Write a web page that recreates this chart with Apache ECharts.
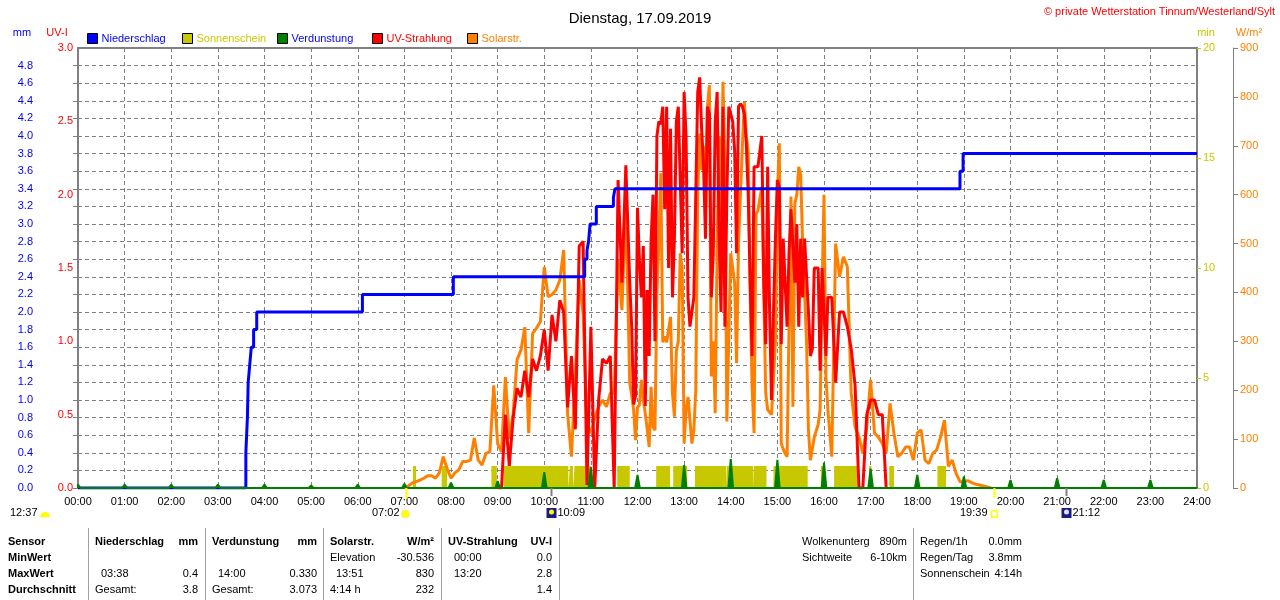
<!DOCTYPE html>
<html>
<head>
<meta charset="utf-8">
<title>Dienstag, 17.09.2019</title>
<script src="https://cdn.jsdelivr.net/npm/echarts/dist/echarts.min.js"></script>
<style>
html, body { margin: 0; padding: 0; background: #fff; }
#chart { width: 1280px; height: 600px; }
</style>
</head>
<body>
<div id="chart"></div>
<script>
// all times are minutes since midnight
var FONT = '"Liberation Sans", Arial, sans-serif';

// Niederschlag, cumulative mm (step line)
var rainTimes  = [0, 216, 218, 219, 221, 223, 226, 230, 366, 483, 652, 655, 657, 659, 667, 689, 691, 1135, 1139, 1440];
var rainTotals = [0, 0.4, 0.8, 1.2, 1.4, 1.6, 1.8, 2.0, 2.2, 2.4, 2.6, 2.7, 2.8, 3.0, 3.2, 3.3, 3.4, 3.6, 3.8, 3.8];

// Verdunstung per hour, mm
var evapHours  = [0, 1, 2, 3, 4, 5, 6, 7, 8, 9, 10, 11, 12, 13, 14, 15, 16, 17, 18, 19, 20, 21, 22, 23];
var evapValues = [0.04, 0.04, 0.04, 0.04, 0.04, 0.03, 0.04, 0.05, 0.06, 0.08, 0.18, 0.24,
                  0.15, 0.26, 0.33, 0.32, 0.29, 0.22, 0.15, 0.13, 0.09, 0.11, 0.09, 0.09];

// Sonnenschein periods (bar height 1 min)
var sunStart = [431, 468, 532, 548, 633, 639, 694, 744, 766, 794, 835, 870, 895, 956, 973, 1018, 1044, 1106];
var sunEnd   = [435, 475, 539, 631, 637, 659, 710, 762, 784, 834, 869, 886, 939, 959, 1003, 1021, 1050, 1117];

// Solarstrahlung W/m²: 5-min samples 07:00-11:45, 2.5-min samples 11:50-16:05, 5-min samples 16:10-19:35
var solarEarlyFrom = 420, solarMidFrom = 710, solarLateFrom = 970;
var solarEarly = [
  0, 4, 10, 13, 16, 20, 25, 25, 20, 31, 64, 40,
  20, 31, 37, 54, 54, 57, 102, 57, 47, 71, 74, 210,
  91, 74, 227, 100, 153, 262, 282, 329, 112, 316, 327, 340,
  452, 391, 396, 405, 425, 487, 153, 64, 235, 425, 357, 132,
  112, 145, 166, 180, 166, 194, 194, 466, 364, 582
];
var solarMid = [
  214, 190, 160, 98, 165, 170, 221, 180, 153, 120, 84, 207,
  125, 118, 400, 500, 644, 298, 310, 298, 298, 350, 194, 146,
  280, 300, 480, 450, 91, 160, 186, 139, 91, 118, 200, 600,
  725, 650, 700, 600, 780, 824, 228, 300, 153, 500, 720, 550,
  831, 650, 136, 136,
  480, 480, 420, 255, 500, 600, 700, 790, 720, 690, 400, 206,
  112, 560, 568, 570, 616, 400, 194, 160, 160, 150, 146, 300,
  600, 705, 91, 80, 70, 64, 64, 596, 166, 582, 600, 657,
  640, 500, 400, 300, 118, 57, 60, 104, 104, 130, 160, 400,
  600, 228, 160
];
var solarLate = [
  64, 500, 432, 473, 453, 194, 125, 104, 71, 125,
  221, 112, 104, 91, 71, 173, 112, 64, 71, 84, 84, 57,
  112, 119, 57, 50, 71, 78, 104, 139, 44, 57, 30, 13,
  13, 15, 11, 8, 6, 4, 2, 0
];

// UV-Index: same sampling, 09:00-11:45, 11:50-16:05, 16:10-17:20
var uvEarlyFrom = 540, uvMidFrom = 710, uvLateFrom = 970;
var uvEarly = [
  0, 0, 0.50, 0.15, 0.48, 0.68, 0.62, 0.80, 0.62, 0.88, 0.80, 0.90,
  1.08, 0.80, 1.18, 1.00, 1.28, 1.20, 0.55, 0.90, 0.40, 1.65, 1.68, 0.02,
  1.10, 0.00, 0.60, 0.88, 0.85, 0.90, 0.00, 2.10, 1.40, 2.20
];
var uvMid = [
  1.40, 1.10, 0.57, 0.63, 1.91, 1.55, 1.30, 1.65, 0.56, 1.35, 0.90, 1.69,
  2.00, 1.00, 2.40, 2.50, 2.48, 2.60, 1.90, 2.60, 1.50, 2.45, 1.30, 1.70,
  2.50, 2.60, 2.60, 1.60, 2.70, 2.40, 1.30, 1.10, 1.10, 1.30, 2.00, 2.70,
  2.80, 2.45, 2.20, 1.70, 2.60, 2.55, 1.30, 1.60, 2.50, 2.70, 1.70, 1.20,
  2.60, 1.10, 2.00, 2.60,
  2.60, 2.50, 2.30, 1.60, 2.60, 2.62, 2.60, 2.55, 2.35, 2.00, 1.40, 0.90,
  2.19, 2.19, 2.19, 2.19, 2.40, 1.40, 0.98, 2.19, 1.20, 0.60, 1.20, 1.70,
  2.10, 2.05, 0.98, 1.70, 1.70, 1.10, 1.60, 1.90, 1.90, 1.40, 1.80, 1.10,
  1.70, 1.30, 1.70, 1.70, 1.20, 0.90, 0.95, 1.50, 1.50, 1.50, 0.80, 1.50,
  1.50, 0.90, 1.30
];
var uvLate = [1.30, 0.72, 1.20, 1.20, 1.10, 0.95, 0.70, 0.00, 0.00, 0.50, 0.60, 0.60, 0.50, 0.50, 0.00];

// sun / moon events under the time axis
var eventLabels  = ['07:02', '10:09', '19:39', '21:12'];
var eventMinutes = [422, 609, 1179, 1272];
var eventKinds   = ['sunrise', 'moonset', 'sunset', 'moonrise'];

var legendNames  = ['Niederschlag', 'Sonnenschein', 'Verdunstung', 'UV-Strahlung', 'Solarstr.'];
var legendColors = ['#0000ff', '#c8c800', '#008000', '#ff0000', '#ff8000'];
var legendText   = ['#0000ff', '#c8c800', '#0000ff', '#ff0000', '#ff8000'];
var legendLeft   = [87, 182, 277, 372, 467];

// table under the chart
var tableRows = ['Sensor', 'MinWert', 'MaxWert', 'Durchschnitt'];
var tableCols = [
  { head: 'Niederschlag', unit: 'mm',   x: 95,  r: 198, cells: [['', ''], ['03:38', '0.4'], ['Gesamt:', '3.8']] },
  { head: 'Verdunstung',  unit: 'mm',   x: 212, r: 317, cells: [['', ''], ['14:00', '0.330'], ['Gesamt:', '3.073']] },
  { head: 'Solarstr.',    unit: 'W/m²', x: 330, r: 434, cells: [['Elevation', '-30.536'], ['13:51', '830'], ['4:14 h', '232']] },
  { head: 'UV-Strahlung', unit: 'UV-I', x: 448, r: 552, cells: [['00:00', '0.0'], ['13:20', '2.8'], ['', '1.4']] }
];
var infoLeft  = [['Wolkenunterg', '890m'], ['Sichtweite', '6-10km']];
var infoRight = [['Regen/1h', '0.0mm'], ['Regen/Tag', '3.8mm'], ['Sonnenschein', '4:14h']];

function pad(n) { return (n < 10 ? '0' : '') + n; }
function samples(from, step, values) {
  return values.map(function (v, i) { return [from + i * step, v]; });
}

var rainData = rainTimes.map(function (t, i) { return [t, rainTotals[i]]; });
var solarData = samples(solarEarlyFrom, 5, solarEarly)
  .concat(samples(solarMidFrom, 2.5, solarMid))
  .concat(samples(solarLateFrom, 5, solarLate));
var uvData = samples(uvEarlyFrom, 5, uvEarly)
  .concat(samples(uvMidFrom, 2.5, uvMid))
  .concat(samples(uvLateFrom, 5, uvLate));
var evapData = [];
evapHours.forEach(function (h, i) {
  var m = h * 60;
  evapData.push([m - 3, 0], [m, evapValues[i]], [m + 3, 0]);
});
evapData.push([1440, 0]);
var sunData = [];
sunStart.forEach(function (s, i) {
  sunData.push([s, 0], [s, 1], [sunEnd[i], 1], [sunEnd[i], 0]);
});

var chart = echarts.init(document.getElementById('chart'));

var dashed = { color: '#808080', width: 1, type: [4, 3] };

var option = {
  animation: false,
  backgroundColor: '#fff',
  textStyle: { fontFamily: FONT },
  title: {
    text: 'Dienstag, 17.09.2019',
    left: 'center', top: 6,
    textStyle: { fontSize: 15, fontWeight: 'normal', color: '#000', fontFamily: FONT }
  },
  legend: legendNames.map(function (n, i) {
    return {
      left: legendLeft[i], top: 33, padding: 0,
      itemWidth: 10, itemHeight: 10, icon: 'rect', selectedMode: false,
      textStyle: { fontSize: 11, fontFamily: FONT, color: legendText[i], padding: [0, 0, 0, -1] },
      itemStyle: { borderColor: '#000', borderWidth: 1 },
      data: [{ name: n, itemStyle: { color: legendColors[i], borderColor: '#000', borderWidth: 1 } }]
    };
  }),
  grid: {
    left: 78, right: 83, top: 48, bottom: 112,
    containLabel: false, outerBoundsMode: 'none',
    show: true, borderColor: '#808080', borderWidth: 2
  },
  xAxis: {
    type: 'value', min: 0, max: 1440, interval: 60,
    axisLine: { show: true, lineStyle: { color: '#008000', width: 2 } },
    axisTick: { show: false },
    axisLabel: {
      color: '#000', fontSize: 11, fontFamily: FONT, margin: 8,
      formatter: function (v) { return pad(v / 60) + ':00'; }
    },
    splitLine: { show: true, lineStyle: dashed }
  },
  yAxis: [
    {
      type: 'value', position: 'left', offset: 37, min: 0, max: 5, interval: 0.2,
      axisLine: { show: true, lineStyle: { color: '#808080', width: 1 } },
      axisTick: { show: true, length: 5, lineStyle: { color: '#808080' } },
      axisLabel: {
        color: '#0000ff', fontSize: 11, fontFamily: FONT, margin: 8, showMaxLabel: false,
        formatter: function (v) { return v.toFixed(1); }
      },
      splitLine: { show: true, lineStyle: dashed }
    },
    {
      type: 'value', position: 'left', offset: 0, min: 0, max: 3, interval: 0.5,
      axisLine: { show: false }, axisTick: { show: false },
      axisLabel: {
        color: '#ff0000', fontSize: 11, fontFamily: FONT, margin: 5,
        formatter: function (v) { return v.toFixed(1); }
      },
      splitLine: { show: false }
    },
    {
      type: 'value', position: 'right', offset: 0, min: 0, max: 20, interval: 5,
      axisLine: { show: false },
      axisTick: { show: true, length: 4, lineStyle: { color: '#c8c800' } },
      axisLabel: { color: '#c8c800', fontSize: 11, fontFamily: FONT, margin: 6 },
      splitLine: { show: false }
    },
    {
      type: 'value', position: 'right', offset: 36, min: 0, max: 900, interval: 100,
      axisLine: { show: true, lineStyle: { color: '#808080', width: 1 } },
      axisTick: { show: true, length: 5, lineStyle: { color: '#808080' } },
      axisLabel: { color: '#ff8000', fontSize: 11, fontFamily: FONT, margin: 7 },
      splitLine: { show: false }
    }
  ],
  series: [
    {
      name: 'Sonnenschein', type: 'line', yAxisIndex: 2, z: 1,
      color: '#c8c800', symbol: 'none',
      lineStyle: { width: 0 }, areaStyle: { color: '#c8c800', opacity: 1 },
      data: sunData
    },
    {
      name: 'Solarstr.', type: 'line', yAxisIndex: 3, z: 2,
      color: '#ff8000', symbol: 'none',
      lineStyle: { width: 3, color: '#ff8000' },
      data: solarData
    },
    {
      name: 'UV-Strahlung', type: 'line', yAxisIndex: 1, z: 3,
      color: '#ff0000', symbol: 'none',
      lineStyle: { width: 3, color: '#ff0000' },
      data: uvData
    },
    {
      name: 'Niederschlag', type: 'line', yAxisIndex: 0, z: 4, step: 'end',
      color: '#0000ff', symbol: 'none',
      lineStyle: { width: 3, color: '#0000ff' },
      data: rainData
    },
    {
      name: 'Verdunstung', type: 'line', yAxisIndex: 0, z: 5,
      color: '#008000', symbol: 'none',
      lineStyle: { width: 2, color: '#008000' },
      areaStyle: { color: '#008000', opacity: 1 },
      data: evapData
    }
  ]
};

chart.setOption(option);

// ---- texts and marks around the plot ----
function txt(s, x, y, color, opts) {
  opts = opts || {};
  return {
    type: 'text', x: x, y: y, silent: true, z: 100,
    style: {
      text: s, fill: color || '#000',
      font: (opts.bold ? 'bold ' : '') + (opts.size || 11) + 'px ' + FONT,
      textAlign: opts.align || 'left', align: opts.align || 'left',
      textVerticalAlign: 'middle', verticalAlign: 'middle'
    }
  };
}
function vline(x, y1, y2, color, w) {
  return { type: 'line', silent: true, z: 100, shape: { x1: x, y1: y1, x2: x, y2: y2 },
           style: { stroke: color, lineWidth: w || 1 } };
}

var g = [];
var baseY = chart.convertToPixel({ yAxisIndex: 0 }, 0);

g.push(txt('© private Wetterstation Tinnum/Westerland/Sylt', 1275, 12, '#ff0000', { align: 'right' }));
g.push(txt('mm', 22, 33, '#0000ff', { align: 'center' }));
g.push(txt('UV-I', 57, 33, '#ff0000', { align: 'center' }));
g.push(txt('min', 1206, 33, '#c8c800', { align: 'center' }));
g.push(txt('W/m²', 1249, 33, '#ff8000', { align: 'center' }));

// marker at the far left
g.push(txt('12:37', 10, 513, '#000'));
g.push({ type: 'sector', silent: true, z: 100,
         shape: { cx: 45, cy: 517, r0: 0, r: 5, startAngle: Math.PI, endAngle: 2 * Math.PI },
         style: { fill: '#ffff00' } });

eventMinutes.forEach(function (m, i) {
  var x = Math.round(chart.convertToPixel({ xAxisIndex: 0 }, m)) + 0.5;
  var kind = eventKinds[i];
  if (kind === 'sunrise') {
    g.push(vline(x, baseY, baseY + 11, '#ffff00', 2));
    g.push({ type: 'circle', silent: true, z: 100, shape: { cx: x - 1, cy: 514, r: 4 },
             style: { fill: '#ffff00', stroke: '#ffe680', lineWidth: 1 } });
    g.push(txt(eventLabels[i], x - 7, 513, '#000', { align: 'right' }));
  } else if (kind === 'sunset') {
    g.push(vline(x, baseY, baseY + 10, '#ffff00', 2));
    g.push({ type: 'rect', silent: true, z: 100, shape: { x: x - 3, y: 511, width: 6, height: 6 },
             style: { fill: '#fff', stroke: '#ffff00', lineWidth: 1.5 } });
    g.push(txt(eventLabels[i], x - 7, 513, '#000', { align: 'right' }));
  } else {
    g.push(vline(x, baseY, baseY + 8, '#808080', 2));
    g.push({ type: 'rect', silent: true, z: 100, shape: { x: x - 5, y: 508, width: 10, height: 10 },
             style: { fill: '#1c1c80' } });
    g.push({ type: 'circle', silent: true, z: 101, shape: { cx: x, cy: 512, r: 2.5 },
             style: { fill: kind === 'moonset' ? '#ffff00' : '#e0e0ff' } });
    g.push(txt(eventLabels[i], x + 6, 513, '#000'));
  }
});

// table
var rowY = [541.5, 557.5, 573.5, 589.5];
tableRows.forEach(function (r, i) { g.push(txt(r, 8, rowY[i], '#000', { bold: true })); });
[88.5, 205.5, 323.5, 441.5, 559.5, 913.5].forEach(function (x) {
  g.push(vline(x, 528, 600, '#a0a0a0', 1));
});
tableCols.forEach(function (c) {
  g.push(txt(c.head, c.x, rowY[0], '#000', { bold: true }));
  g.push(txt(c.unit, c.r, rowY[0], '#000', { bold: true, align: 'right' }));
  c.cells.forEach(function (cell, j) {
    var left = cell[0];
    var indent = /^\d\d:\d\d$/.test(left) ? 6 : 0;
    if (left) g.push(txt(left, c.x + indent, rowY[j + 1], '#000'));
    if (cell[1]) g.push(txt(cell[1], c.r, rowY[j + 1], '#000', { align: 'right' }));
  });
});
infoLeft.forEach(function (p, j) {
  g.push(txt(p[0], 802, rowY[j], '#000'));
  g.push(txt(p[1], 907, rowY[j], '#000', { align: 'right' }));
});
infoRight.forEach(function (p, j) {
  g.push(txt(p[0], 920, rowY[j], '#000'));
  g.push(txt(p[1], 1022, rowY[j], '#000', { align: 'right' }));
});

chart.setOption({ graphic: g });
</script>
</body>
</html>
